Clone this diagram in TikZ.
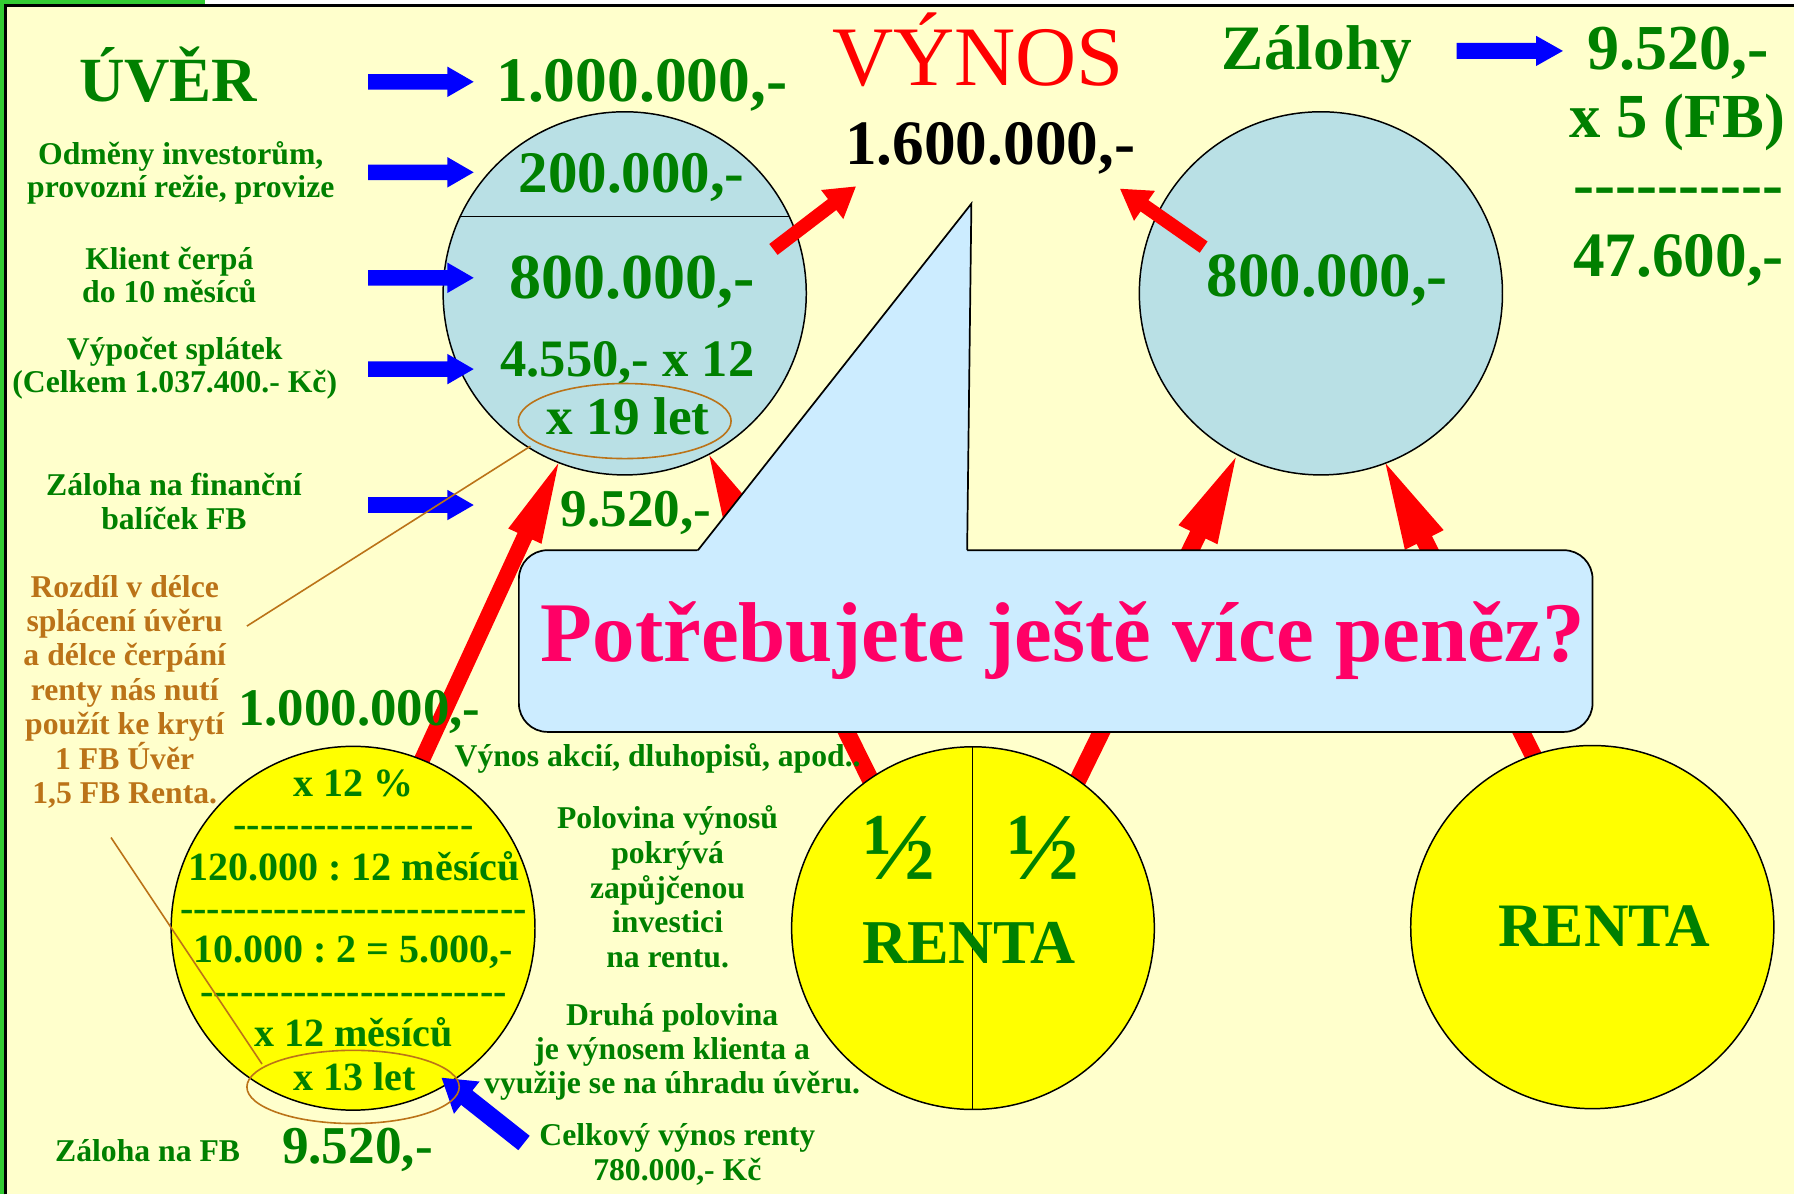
\documentclass[tikz,border=0pt]{standalone}
\usepackage{fontspec}
\setmainfont{Liberation Serif}
\usetikzlibrary{calc,shapes.geometric}
\definecolor{bgy}{HTML}{FFFFCC}
\definecolor{grn}{HTML}{008000}
\definecolor{lblue}{HTML}{B9E0E5}
\definecolor{cfill}{HTML}{CCECFF}
\definecolor{pnk}{HTML}{FF0066}
\definecolor{brn}{HTML}{BB7318}
\definecolor{frgreen}{HTML}{33CC33}
\definecolor{ylw}{RGB}{255,255,0}
\definecolor{rd}{RGB}{255,0,0}
\definecolor{bl}{RGB}{0,0,255}
\newcommand\fsz[2]{\fontsize{#1}{#2}\selectfont}
\newcount\hycnt
\newcommand\hyx[1]{\hycnt=0\relax\loop\ifnum\hycnt<#1\relax -\kern0pt\advance\hycnt by 1\relax\repeat}
% block arrow: #1 colour, #2 tail, #3 tip, #4 head length, #5 head half width, #6 shaft half width
\newcommand\barrow[6]{%
  \coordinate (bh) at ($(#3)!#4!(#2)$);
  \fill[#1] ($(#2)!#6!90:(#3)$) -- ($(bh)!#6!90:(#3)$) -- ($(bh)!#5!90:(#3)$) -- (#3)
    -- ($(bh)!#5!-90:(#3)$) -- ($(bh)!#6!-90:(#3)$) -- ($(#2)!#6!-90:(#3)$) -- cycle;}
\frenchspacing
\begin{document}
\frenchspacing
\begin{tikzpicture}[x=1pt,y=-1pt,
  tg/.style={inner sep=0pt, anchor=base, text=grn},
  fs/.style={font=\frenchspacing\bfseries\fsz{#1}{#1}},
  ml/.style={inner sep=0pt, anchor=center, align=center, text=grn},
  fm/.style 2 args={font=\frenchspacing\bfseries\fsz{#1}{#2}},
  circ/.style={circle, draw=black, line width=1.3pt, inner sep=0pt, minimum size=#1},
  oval/.style={ellipse, draw=brn, line width=1.4pt, inner sep=0pt},
  brline/.style={draw=brn, line width=1.4pt}]
\useasboundingbox (0,0) rectangle (1568,1044);
% background and frame
\fill[bgy] (0,0) rectangle (1568,1044);
\fill[white] (179,0) rectangle (1568,4);
\fill[frgreen] (0,0) rectangle (3.8,1044);
\fill[frgreen] (0,0) rectangle (179,3.8);
\draw[line width=2pt] (4.7,1044) -- (4.7,4.7) -- (1568,4.7);

% coordinates for arrows
\coordinate (a1t) at (367,668);  \coordinate (a1h) at (488,405);
\coordinate (a2t) at (676,218);  \coordinate (a2h) at (748,163);
\coordinate (a3t) at (1052,216); \coordinate (a3h) at (979,165);
\coordinate (a4t) at (762,684);  \coordinate (a4h) at (620,398);
\coordinate (a5t) at (940,686);  \coordinate (a5h) at (1080,400);
\coordinate (a6t) at (1344,668); \coordinate (a6h) at (1211,405);
\coordinate (b1t) at (321.7,71.5);  \coordinate (b1h) at (414,71.5);
\coordinate (b2t) at (321.7,150.6); \coordinate (b2h) at (414,150.6);
\coordinate (b3t) at (321.7,242.8); \coordinate (b3h) at (414,242.8);
\coordinate (b4t) at (321.7,322.6); \coordinate (b4h) at (414,322.6);
\coordinate (b5t) at (321.7,441.4); \coordinate (b5h) at (414,441.4);
\coordinate (b6t) at (1273,44.5);   \coordinate (b6h) at (1366,44.5);
\coordinate (b7t) at (458,999);     \coordinate (b7h) at (386,942);

% long red arrows (behind circles)
\barrow{rd}{a1t}{a1h}{70pt}{16pt}{7pt}
\barrow{rd}{a4t}{a4h}{75pt}{19pt}{7.5pt}
\barrow{rd}{a5t}{a5h}{75pt}{19pt}{7.5pt}
\barrow{rd}{a6t}{a6h}{75pt}{19pt}{7.5pt}

% circles
\node[circ=317.4pt, fill=lblue] (c1) at (546,256.4) {};
\node[circ=317.4pt, fill=lblue] (c3) at (1154.5,256.4) {};
\node[circ=318pt, fill=ylw] (y1) at (308.6,811.3) {};
\node[circ=317pt, fill=ylw] (rh) at (850.4,811.2) {};
\node[circ=317.4pt, fill=ylw] (rt) at (1391.7,810.3) {};
\begin{scope}
  \clip (c1.center) circle (158.7pt);
  \draw[line width=1.3pt] (380,189.4) -- (720,189.4);
\end{scope}
\begin{scope}
  \clip (rh.center) circle (158.5pt);
  \draw[line width=1.3pt] (850,600) -- (850,1000);
\end{scope}

% short red arrows (over circles)
\barrow{rd}{a2t}{a2h}{26pt}{16pt}{6pt}
\barrow{rd}{a3t}{a3h}{26pt}{16pt}{6pt}

% blue arrows
\barrow{bl}{b1t}{b1h}{23pt}{13.3pt}{6.8pt}
\barrow{bl}{b2t}{b2h}{23pt}{13.3pt}{6.8pt}
\barrow{bl}{b3t}{b3h}{23pt}{13.3pt}{6.8pt}
\barrow{bl}{b4t}{b4h}{23pt}{13.3pt}{6.8pt}
\barrow{bl}{b5t}{b5h}{23pt}{13.3pt}{6.8pt}
\barrow{bl}{b6t}{b6h}{23.4pt}{13.2pt}{7pt}
\barrow{bl}{b7t}{b7h}{28pt}{18pt}{8pt}

% callout
\draw[fill=cfill, line width=1.5pt, rounded corners=25pt] (453.5,480.9) rectangle (1391.9,639.7);
\fill[cfill] (608.4,483) -- (849,178) -- (845.3,483) -- cycle;
\draw[line width=1.5pt, line join=miter] (610,480.9) -- (849,178) -- (845.3,480.9);
\node[tg, fs=74.2, text=pnk] (q) at (929,578.5) {Potřebujete ještě více peněz?};

% top texts
\node[tg, fs=55] (uver) at (147,88.9) {ÚVĚR};
\node[tg, fs=55.5] (u1) at (561,89) {1.000.000,-};
\node[tg, font=\normalfont\fsz{74}{74}, text=rd] (vynos) at (855,75) {VÝNOS};
\node[tg, fs=55.3, text=black] (v1) at (865.5,143.5) {1.600.000,-};
\node[tg, fs=55.3] (zal) at (1151,61) {Zálohy};
\node[tg, fs=56] (z1) at (1466.5,61) {9.520,-};
\node[tg, fs=54.8] (z2) at (1466,120) {x 5 (FB)};
\node[tg, fs=55] (zd) at (1467,179.5) {\hyx{10}};
\node[tg, fs=55.3] (z3) at (1467,242) {47.600,-};

% circle 1 texts
\node[tg, fs=51.5] (c1a) at (552,168.5) {200.000,-};
\node[tg, fs=56] (c1b) at (552.5,260.6) {800.000,-};
\node[tg, fs=46] (c1c) at (548.4,329.3) {4.550,- x 12};
\node[tg, fs=46.5] (c1d) at (549,380) {x 19 let};
\node[tg, fs=46.4] (m1) at (556,460.3) {9.520,-};
\node[tg, fs=55] (c3a) at (1160,259) {800.000,-};

% left labels
\node[ml, fm={27.7}{28.3}] (lab1) at (158,151) {Odměny investorům,\\provozní režie, provize};
\node[ml, fm={27.7}{28.3}] (lab2) at (148,240.5) {Klient čerpá\\do 10 měsíců};
\node[ml, fm={27.7}{28.3}] (lab3) at (152.7,321.9) {Výpočet splátek\\(Celkem 1.037.400.- Kč)};
\node[ml, fm={27.7}{30.3}] (lab4) at (152,438.2) {Záloha na finanční\\balíček FB};
\node[ml, fm={27.7}{30.07}, text=brn] (rozdil) at (109,604.6) {Rozdíl v délce\\splácení úvěru\\a délce čerpání\\renty nás nutí\\použít ke krytí\\1 FB Úvěr\\1,5 FB Renta.};

% lower texts
\node[tg, fs=46.2] (l1) at (314,633.7) {1.000.000,-};
\node[tg, fs=27.7] (vak) at (574.8,670) {Výnos akcií, dluhopisů, apod..};
\node[ml, fm={27.7}{30.4}] (polo) at (583.5,775.1) {Polovina výnosů\\pokrývá\\zapůjčenou\\investici\\na rentu.};
\node[ml, fm={27.7}{29.85}] (druha) at (587.5,919.2) {Druhá polovina\\je výnosem klienta a\\využije se na úhradu úvěru.};
\node[ml, fm={27.7}{30.6}] (celk) at (592,1009) {Celkový výnos renty\\780.000,- Kč};

% yellow circle texts
\node[tg, fs=35] (y1a) at (308.6,696.4) {x 12 \%};
\node[tg, fs=35] (y1d1) at (309,732) {\hyx{18}};
\node[tg, fs=35] (y1b) at (309.5,769.2) {120.000 : 12 měsíců};
\node[tg, fs=35] (y1d2) at (309,805) {\hyx{26}};
\node[tg, fs=35] (y1c) at (308.5,841.5) {10.000 : 2 = 5.000,-};
\node[tg, fs=35] (y1d3) at (309,877.6) {\hyx{23}};
\node[tg, fs=35] (y1e) at (309,914.3) {x 12 měsíců};
\node[tg, fs=35] (y1f) at (310,952.8) {x 13 let};
\node[tg, fs=27.7] (zfb) at (129,1015) {Záloha na FB};
\node[tg, fs=46.5] (b1) at (312.4,1016.7) {9.520,-};

% renta circles
\node[tg, fs=84] (h1) at (786,769) {½};
\node[tg, fs=84] (h2) at (912,769) {½};
\node[tg, fs=54.5] (r1) at (846.8,842) {RENTA};
\node[tg, fs=54] (r2) at (1402,827.4) {RENTA};

% orange ellipses and pointer lines
\node[oval, minimum width=186pt, minimum height=65.6pt] (e1) at (546,368) {};
\node[oval, minimum width=185.6pt, minimum height=64pt] (e2) at (308.6,950) {};
\coordinate (p1a) at (463.6,390); \coordinate (p1b) at (215.8,547.2);
\coordinate (p2a) at (97,732);    \coordinate (p2b) at (229,930);
\draw[brline] (p1a) -- (p1b);
\draw[brline] (p2a) -- (p2b);
\end{tikzpicture}
\end{document}
